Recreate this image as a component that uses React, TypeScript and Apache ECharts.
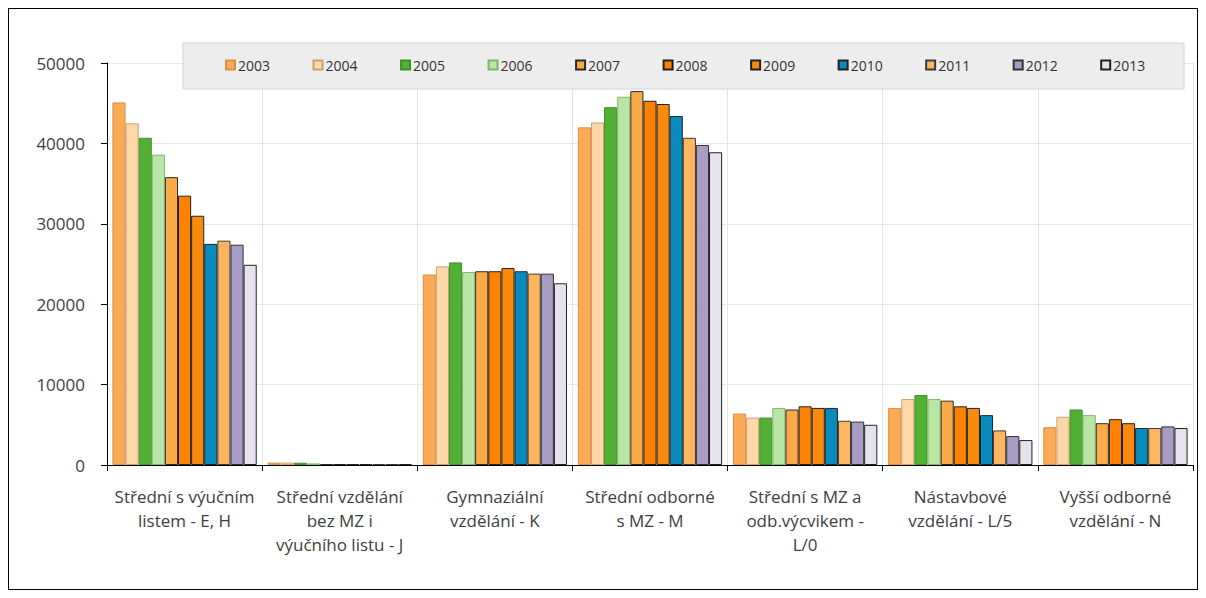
import React, { useEffect, useRef } from "react";
import * as echarts from "echarts";

const categories = [
  "Střední s výučním\nlistem - E, H",
  "Střední vzdělání\nbez MZ i\nvýučního listu - J",
  "Gymnaziální\nvzdělání - K",
  "Střední odborné\ns MZ - M",
  "Střední s MZ a\nodb.výcvikem -\nL/0",
  "Nástavbové\nvzdělání - L/5",
  "Vyšší odborné\nvzdělání - N",
];

const years = ["2003", "2004", "2005", "2006", "2007", "2008", "2009", "2010", "2011", "2012", "2013"];

const v2003 = [45100, 300, 23700, 42000, 6400, 7100, 4700];
const v2004 = [42500, 300, 24700, 42600, 5900, 8200, 6000];
const v2005 = [40700, 280, 25200, 44500, 5900, 8700, 6900];
const v2006 = [38600, 200, 24000, 45800, 7100, 8200, 6200];
const v2007 = [35800, 120, 24100, 46500, 6900, 8000, 5200];
const v2008 = [33500, 110, 24100, 45300, 7300, 7300, 5700];
const v2009 = [31000, 100, 24500, 44900, 7100, 7100, 5200];
const v2010 = [27500, 100, 24100, 43400, 7100, 6200, 4600];
const v2011 = [27900, 100, 23800, 40700, 5500, 4300, 4600];
const v2012 = [27400, 100, 23800, 39800, 5400, 3600, 4800];
const v2013 = [24900, 100, 22600, 38900, 5000, 3100, 4600];

const seriesValues = [v2003, v2004, v2005, v2006, v2007, v2008, v2009, v2010, v2011, v2012, v2013];

const fills = ["#FBAA56", "#FDD7A8", "#52B034", "#BAE6A5", "#FBAA48", "#FF8300", "#F98A0E", "#0A8BC0", "#FDB55F", "#A89CC4", "#E6E3EF"];
const borders = ["#D98F48", "#CF9E6E", "#3F8F2B", "#7DB56E", "#2B2B2B", "#222222", "#222222", "#222222", "#3A3A3A", "#333333", "#222222"];

const yTicks = [0, 10000, 20000, 30000, 40000, 50000];

const FONT = "'Open Sans', 'Noto Sans', sans-serif";

export default function App() {
  const ref = useRef<HTMLDivElement>(null);
  useEffect(() => {
    if (!ref.current) return;
    const chart = echarts.init(ref.current, null, { renderer: "svg" });
    chart.setOption({
      animation: false,
      backgroundColor: "#ffffff",
      textStyle: { fontFamily: FONT },
      graphic: [
        {
          type: "rect",
          z: 5,
          shape: { x: 174, y: 34, width: 1001, height: 46 },
          style: { fill: "#EDEDED", stroke: "#D6D6D6", lineWidth: 1 },
        },
      ],
      legend: {
        z: 10,
        left: 211,
        top: 44,
        itemWidth: 9,
        itemHeight: 9,
        itemGap: 42.5,
        icon: "rect",
        textStyle: { fontSize: 14, color: "#333333", fontFamily: FONT, padding: [0, 0, 0, -2] },
        data: years,
      },
      grid: { left: 98, right: 4, top: 54, bottom: 124, containLabel: false },
      xAxis: {
        type: "category",
        data: categories,
        axisLine: { lineStyle: { color: "#000000", width: 1 } },
        axisTick: { show: true, length: 6, lineStyle: { color: "#000000" } },
        splitLine: { show: true, lineStyle: { color: "#E4E4E4" } },
        axisLabel: {
          interval: 0,
          margin: 19,
          fontSize: 17,
          lineHeight: 24,
          color: "#404040",
          fontFamily: FONT,
        },
      },
      yAxis: {
        type: "value",
        min: 0,
        max: 50000,
        interval: 10000,
        axisLine: { show: true, lineStyle: { color: "#000000" } },
        axisTick: { show: true, length: 6, lineStyle: { color: "#000000" } },
        splitLine: { show: true, lineStyle: { color: "#E8E8E8" } },
        axisLabel: {
          margin: 22,
          fontSize: 17,
          color: "#404040",
          fontFamily: FONT,
          formatter: (v: number) => (yTicks.includes(v) ? String(v) : ""),
        },
      },
      series: years.map((y, i) => ({
        name: y,
        type: "bar",
        data: seriesValues[i],
        barGap: "0%",
        barCategoryGap: "7%",
        itemStyle: { color: fills[i], borderColor: borders[i], borderWidth: 1 },
      })),
    });
    return () => chart.dispose();
  }, []);
  return (
    <div
      style={{ width: 1190, height: 582, border: "1px solid #000", boxSizing: "border-box", position: "relative" }}
    >
      <div ref={ref} style={{ width: 1188, height: 580 }} />
    </div>
  );
}
